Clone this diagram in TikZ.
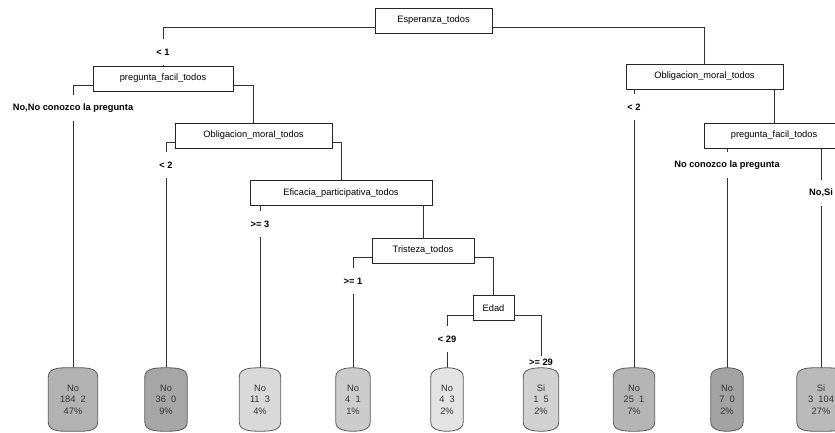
\documentclass[tikz,border=0pt]{standalone}
\usepackage{fontspec}
\setmainfont{Liberation Sans}
\pgfdeclarelayer{bg}
\pgfsetlayers{bg,main}

\newcommand{\barrel}[2]{%
  \begin{pgfonlayer}{bg}
    \filldraw[leafline,fill=#2]
      ([yshift=-9pt]#1.north west) to[out=90,in=180] (#1.north)
      to[out=0,in=90] ([yshift=-9pt]#1.north east)
      -- ([yshift=9pt]#1.south east) to[out=-90,in=0] (#1.south)
      to[out=180,in=-90] ([yshift=9pt]#1.south west) -- cycle;
  \end{pgfonlayer}}

\begin{document}
\begin{tikzpicture}[x=1pt,y=-1pt,
    every node/.style={font=\fontsize{9.3}{11.5}\selectfont},
    split/.style={draw=black!85,line width=0.8pt,fill=white,minimum height=25pt,inner sep=0pt},
    cond/.style={font=\fontsize{9.3}{11.5}\selectfont\bfseries,minimum height=25pt,inner sep=1pt},
    leaf/.style={minimum height=63pt,inner sep=0pt,align=center,text=black!80},
    conn/.style={draw=black!80,line width=0.8pt},
    leafline/.style={draw=black!65,line width=0.8pt}]
  \clip (0,0) rectangle (835,432);

  % split boxes
  \node[split,minimum width=117pt] (root) at (433.5,20.5) {Esperanza\_todos};
  \node[split,minimum width=140pt] (pf1) at (163,78.5) {pregunta\_facil\_todos};
  \node[split,minimum width=157pt] (om1) at (253.5,135.5) {Obligacion\_moral\_todos};
  \node[split,minimum width=182pt] (ef) at (341,193) {Eficacia\_participativa\_todos};
  \node[split,minimum width=102pt] (tr) at (423,250.5) {Tristeza\_todos};
  \node[split,minimum width=41pt] (ed) at (493.5,308) {Edad};
  \node[split,minimum width=157pt] (om2) at (704.5,76.5) {Obligacion\_moral\_todos};
  \node[split,minimum width=140pt] (pf2) at (774,135.5) {pregunta\_facil\_todos};

  % leaves
  \node[leaf,minimum width=49pt] (l1) at (73,399.5) {No\\184\ \ 2\\47\%};
  \node[leaf,minimum width=42pt] (l2) at (166,399.5) {No\\36\ \ 0\\9\%};
  \node[leaf,minimum width=41pt] (l3) at (260,399.5) {No\\11\ \ 3\\4\%};
  \node[leaf,minimum width=34pt] (l4) at (353,399.5) {No\\4\ \ 1\\1\%};
  \node[leaf,minimum width=32pt] (l5) at (447,399.5) {No\\4\ \ 3\\2\%};
  \node[leaf,minimum width=35pt] (l6) at (541,399.5) {Si\\1\ \ 5\\2\%};
  \node[leaf,minimum width=41pt] (l7) at (634,399.5) {No\\25\ \ 1\\7\%};
  \node[leaf,minimum width=32pt] (l8) at (727,399.5) {No\\7\ \ 0\\2\%};
  \node[leaf,minimum width=48pt] (l9) at (821,399.5) {Si\\3\ \ 104\\27\%};

  % branch labels
  \node[cond] (a1) at (163,52) {< 1};
  \node[cond] (a2) at (73,108) {No,No conozco la pregunta};
  \node[cond] (a3) at (166,165) {< 2};
  \node[cond] (a4) at (260,224) {>= 3};
  \node[cond] (a5) at (353,281) {>= 1};
  \node[cond] (a6) at (447,339) {< 29};
  \node[cond] (a8) at (634,107) {< 2};
  \node[cond] (a9) at (727,165) {No conozco la pregunta};
  \node[cond] (a10) at (821,193) {No,Si};

  \begin{pgfonlayer}{bg}
    \draw[conn] ([yshift=6pt]root.south west) -| (a1.north);
    \draw[conn] (a1) -- (pf1);
    \draw[conn] ([yshift=6pt]root.south east) -| (om2.north);

    \draw[conn] ([yshift=6pt]pf1.south west) -| (a2.north);
    \draw[conn] (a2) -- (l1);
    \draw[conn] ([yshift=6pt]pf1.south east) -| (om1.north);

    \draw[conn] ([yshift=6pt]om1.south west) -| (a3.north);
    \draw[conn] (a3) -- (l2);
    \draw[conn] ([yshift=6pt]om1.south east) -| (ef.north);

    \draw[conn] (ef.south -| a4) -- (a4.north);
    \draw[conn] (a4) -- (l3);
    \draw[conn] (ef.south -| tr) -- (tr.north);

    \draw[conn] ([yshift=6pt]tr.south west) -| (a5.north);
    \draw[conn] (a5) -- (l4);
    \draw[conn] ([yshift=6pt]tr.south east) -| (ed.north);

    \draw[conn] ([yshift=6pt]ed.south west) -| (a6.north);
    \draw[conn] (a6) -- (l5);
    \draw[conn] ([yshift=6pt]ed.south east) -| ([yshift=12pt]l6.north);

    \draw[conn] (om2.south -| a8) -- (a8.north);
    \draw[conn] (a8) -- (l7);
    \draw[conn] (om2.south -| pf2) -- (pf2.north);

    \draw[conn] (pf2.south -| a9) -- (a9.north);
    \draw[conn] (a9) -- (l8);
    \draw[conn] (pf2.south -| a10) -- (a10.north);
    \draw[conn] (a10) -- (l9);
  \end{pgfonlayer}

  \barrel{l1}{black!30}
  \barrel{l2}{black!35}
  \barrel{l3}{black!15}
  \barrel{l4}{black!20}
  \barrel{l5}{black!11}
  \barrel{l6}{black!18}
  \barrel{l7}{black!29}
  \barrel{l8}{black!36}
  \barrel{l9}{black!27}

  \node[cond] (a7) at (541,362) {>= 29};
\end{tikzpicture}
\end{document}
